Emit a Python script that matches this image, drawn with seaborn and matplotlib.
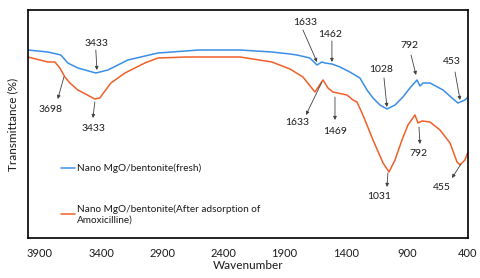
import pandas as pd
import matplotlib
matplotlib.use("Agg")
import matplotlib.pyplot as plt
import seaborn as sns

# FTIR spectra (transmittance in arbitrary units)
fresh_wn = [4000, 3836, 3730, 3673, 3591, 3444, 3345, 3182, 2936, 2601, 2265, 2004,
            1856, 1799, 1693, 1635, 1595, 1570, 1513, 1447, 1366, 1284, 1226, 1177,
            1120, 1063, 997, 932, 875, 817, 793, 768, 711, 604, 531, 482, 425, 400]
fresh_t = [188, 186, 183, 175, 170, 165, 168, 178, 185, 188, 188, 186,
           184, 183, 180, 173, 176, 175, 174, 171, 166, 160, 148, 140,
           133, 129, 133, 141, 150, 158, 152, 155, 155, 148, 140, 135, 138, 141]

after_wn = [4000, 3836, 3779, 3738, 3697, 3656, 3591, 3452, 3411, 3321, 3206, 3043,
            2936, 2699, 2372, 2265, 2004, 1856, 1750, 1652, 1586, 1545, 1505, 1390,
            1341, 1308, 1267, 1243, 1177, 1095, 1046, 997, 940, 891, 834, 809, 776,
            711, 629, 547, 490, 465, 425, 400]
after_t = [181, 176, 176, 170, 161, 155, 148, 139, 140, 155, 165, 175,
           180, 181, 181, 181, 176, 169, 161, 146, 158, 150, 146, 143,
           138, 136, 125, 118, 98, 75, 66, 78, 98, 113, 123, 115, 117,
           116, 108, 95, 76, 73, 78, 86]

label_fresh = 'Nano MgO/bentonite(fresh)'
label_after = 'Nano MgO/bentonite(After adsorption of\nAmoxicilline)'

df = pd.concat([
    pd.DataFrame({'wavenumber': fresh_wn, 'transmittance': fresh_t, 'sample': label_fresh}),
    pd.DataFrame({'wavenumber': after_wn, 'transmittance': after_t, 'sample': label_after}),
])

# peak labels: (text, text position, arrow tail, arrow head)
fresh_peaks = [
    ('3433', (3435, 195), (3444, 188), (3435, 168)),
    ('1633', (1734, 216), (1750, 208), (1635, 176)),
    ('1462', (1529, 204), (1513, 197), (1513, 176)),
    ('792', (883, 193), (866, 183), (825, 163)),
    ('1028', (1112, 168), (1087, 160), (1063, 131)),
    ('453', (531, 176), (506, 166), (465, 138)),
]
after_peaks = [
    ('3698', (3812, 128), (3705, 161), (3755, 139)),
    ('3433', (3460, 109), (3452, 136), (3468, 120)),
    ('1633', (1799, 115), (1595, 156), (1725, 123)),
    ('1469', (1488, 106), (1488, 141), (1488, 118)),
    ('792', (809, 84), (801, 111), (793, 94)),
    ('1031', (1128, 41), (1055, 65), (1063, 51)),
    ('455', (613, 50), (457, 74), (531, 60)),
]

sns.set_style('white')
plt.rcParams['font.family'] = ['Lato', 'DejaVu Sans']

fig = plt.figure(figsize=(4.8, 2.78), dpi=100)
ax = fig.add_axes([0.058, 0.144, 0.917, 0.820])

sns.lineplot(data=df, x='wavenumber', y='transmittance', hue='sample',
             palette=['#3a8ee6', '#f0602a'], linewidth=1.1, estimator=None, ax=ax)

for text, pos, tail, head in fresh_peaks + after_peaks:
    ax.text(pos[0], pos[1], text, ha='center', va='center', fontsize=7.5,
            color='#1a1a1a')
    ax.annotate('', xy=head, xytext=tail,
                arrowprops=dict(arrowstyle='-|>', color='#404040', lw=0.6,
                                mutation_scale=5, shrinkA=0, shrinkB=0))

ax.set_xlim(4000, 400)
ax.set_ylim(0, 228)
ax.set_xticks([3900, 3400, 2900, 2400, 1900, 1400, 900, 400])
ax.set_yticks([])
ax.tick_params(axis='x', length=0, labelsize=8, pad=7, labelcolor='#1a1a1a')
ax.set_xlabel('Wavenumber', fontsize=8.5, labelpad=1, color='#1a1a1a')
ax.set_ylabel('Transmittance (%)', fontsize=8.5, labelpad=7, color='#1a1a1a')
for s in ax.spines.values():
    s.set_color('black')
    s.set_linewidth(1.2)

leg = ax.legend(title=None, frameon=False, fontsize=7.2, loc='upper left',
                bbox_to_anchor=(0.055, 0.365), handlelength=1.4, handletextpad=0.2,
                labelspacing=3.1)
for t in leg.get_texts():
    t.set_color('#1a1a1a')

fig.savefig('out.png', dpi=100)
